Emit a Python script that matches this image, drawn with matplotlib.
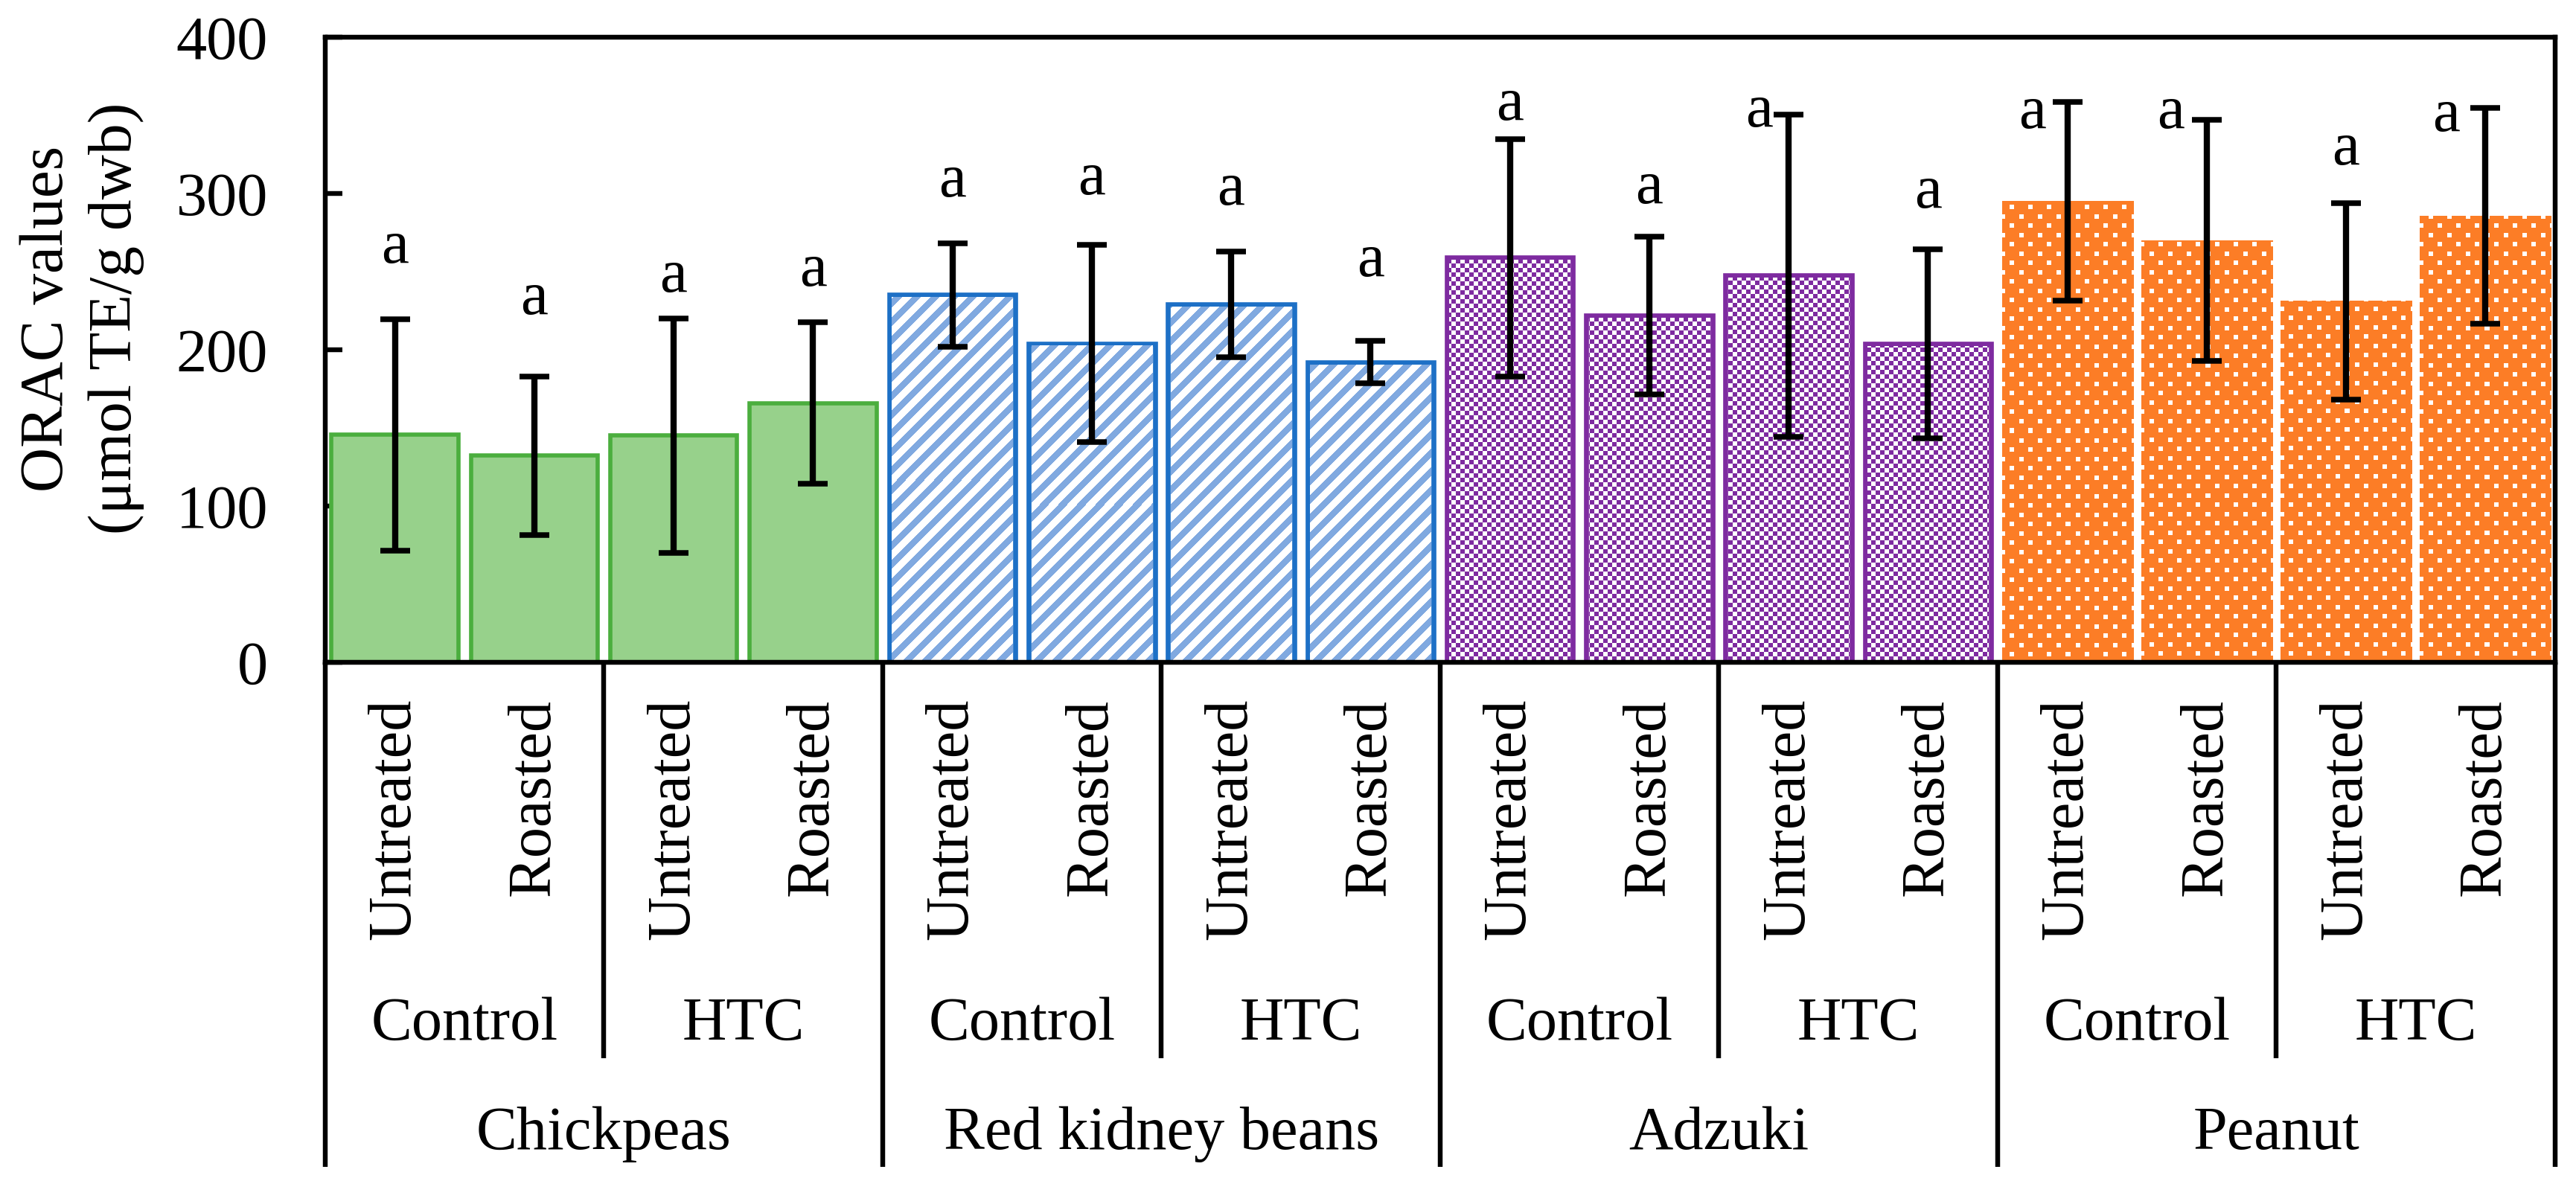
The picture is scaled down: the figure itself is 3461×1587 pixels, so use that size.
import numpy as np
import matplotlib
import matplotlib.pyplot as plt
from matplotlib.colors import to_rgb

plt.rcParams['font.family'] = ['Liberation Serif', 'DejaVu Serif']

# categories
groups = ['Chickpeas', 'Red kidney beans', 'Adzuki', 'Peanut']
subgroups = ['Control', 'HTC']
treatments = ['Untreated', 'Roasted']

# ORAC values (µmol TE/g dwb) and SD, order: group > subgroup > treatment
orac = [145.5, 132.3, 145.2, 165.8,
        235.0, 204.0, 229.0, 192.0,
        259.0, 222.0, 247.4, 203.6,
        295.0, 270.0, 231.0, 285.7]
orac_sd = [74.0, 50.7, 75.0, 51.6,
           33.0, 63.0, 34.0, 13.5,
           76.0, 50.5, 103.0, 60.5,
           63.5, 77.0, 63.0, 69.0]
letters = ['a'] * 16
letter_y = [255.6, 222.7, 237.0, 241.0,
            298.0, 299.5, 293.0, 247.0,
            347.0, 294.0, 343.0, 291.0,
            342.0, 342.0, 318.6, 340.0]
letter_shift = [0, 0, 0, 0,
                0, 0, 0, 0,
                0, 0, -0.21, 0,
                -0.25, -0.26, 0, -0.28]

# look of each legume
styles = [
    dict(fill='#97D18B', edge='#4BAE3E', lw=2.7, texture=None),
    dict(fill='#FFFFFF', edge='#1D70C6', lw=3.2, texture=('stripes', '#80A9E0')),
    dict(fill='#FFFFFF', edge='#7E2BA0', lw=3.2, texture=('checks', '#7E2BA0')),
    dict(fill='#FC7D26', edge='#FC7D26', lw=0.0, texture=('dots', '#FFFFFF')),
]

W, H, DPI = 3462, 1587, 150
fig = plt.figure(figsize=(W / DPI, H / DPI), dpi=DPI)
ax = fig.add_axes([437 / W, 1 - 890 / H, (3433 - 437) / W, 840 / H])
ax.set_xlim(-0.5, 15.5)
ax.set_ylim(0, 400)

px_per_pt = DPI / 72.0
slot_px = (3433 - 437) / 16.0


def texture(kind, x0, ytop, w, h, fg, bg):
    yy, xx = np.mgrid[0:h, 0:w]
    xx = xx + x0
    yy = yy + ytop
    if kind == 'stripes':
        m = (xx + yy) % 25 < 12
    elif kind == 'checks':
        m = (xx // 6 + yy // 6) % 2 == 0
    else:
        m = (((yy % 25) < 6) & ((xx % 25) < 6)) | \
            ((((yy + 12) % 25) < 6) & (((xx + 12) % 25) < 6))
    return np.where(m[..., None], np.array(to_rgb(fg)), np.array(to_rgb(bg)))


x = np.arange(16)
for g, st in enumerate(styles):
    idx = slice(4 * g, 4 * g + 4)
    lw_px = st['lw'] * px_per_pt
    width = 0.94 - lw_px / slot_px
    bars = ax.bar(x[idx], orac[idx], width=width, color=st['fill'],
                  edgecolor=st['edge'] if st['lw'] > 0 else 'none',
                  linewidth=st['lw'], zorder=2)
    if st['texture'] is None:
        continue
    kind, fg = st['texture']
    for b in bars:
        bx, bw, bh = b.get_x(), b.get_width(), b.get_height()
        (p0x, p0y), (p1x, p1y) = ax.transData.transform([(bx, 0), (bx + bw, bh)])
        inset = lw_px / 2.0
        p0x, p1x, p1y = p0x + inset, p1x - inset, p1y - inset
        wpx = int(round(p1x - p0x))
        hpx = int(round(p1y - p0y))
        img = texture(kind, int(round(p0x)), int(round(H - p1y)), wpx, hpx, fg, st['fill'])
        (d0x, d0y), (d1x, d1y) = ax.transData.inverted().transform([(p0x, p0y), (p1x, p1y)])
        ax.imshow(img, extent=(d0x, d1x, d0y, d1y), aspect='auto',
                  interpolation='nearest', zorder=2.5)

ax.errorbar(x, orac, yerr=orac_sd, fmt='none', ecolor='black',
            elinewidth=4.0, capsize=9.4, capthick=3.6, zorder=3)

for i in range(16):
    ax.text(x[i] + letter_shift[i], letter_y[i], letters[i], ha='center',
            va='baseline', fontsize=40, zorder=4)

ax.set_xlim(-0.5, 15.5)
ax.set_ylim(0, 400)
ax.set_yticks([0, 100, 200, 300, 400])
ax.set_xticks([])
ax.tick_params(axis='y', direction='in', length=11, width=3.1, pad=37,
               labelsize=39.5)
for sp in ax.spines.values():
    sp.set_linewidth(3.1)

# multi-level category axis
trans = ax.get_xaxis_transform()
for k in range(9):
    xb = -0.5 + 2 * k
    y_end = -0.807 if k % 2 == 0 else -0.633
    ax.plot([xb, xb], [0, y_end], transform=trans, color='black', lw=3.1,
            clip_on=False, solid_capstyle='butt')

for i in range(16):
    ax.text(x[i], -0.058, treatments[i % 2], rotation=90, ha='center',
            va='top', transform=trans, fontsize=39.5)
for k in range(8):
    ax.text(2 * k + 0.5, -0.6036, subgroups[k % 2], ha='center',
            va='baseline', transform=trans, fontsize=39.5)
for g in range(4):
    ax.text(4 * g + 1.5, -0.7786, groups[g], ha='center', va='baseline',
            transform=trans, fontsize=39.5)

fig.text(110 / W, 1 - 428 / H, 'ORAC values\n(\u03bcmol TE/g dwb)', rotation=90,
         ha='center', va='center', fontsize=40, linespacing=1.3,
         multialignment='center')

fig.savefig('out.png', dpi=DPI)
